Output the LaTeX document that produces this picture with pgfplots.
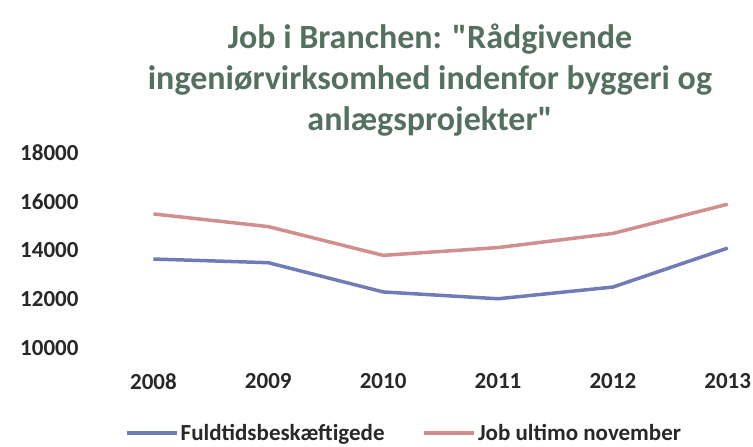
\documentclass[border=0pt]{standalone}
\usepackage{pgfplots}
\pgfplotsset{compat=1.18}
\usepackage{fontspec}
\setmainfont{Carlito}[Ligatures=TeXOff]
\definecolor{titlegreen}{RGB}{84,112,94}
\definecolor{blueline}{RGB}{112,124,184}
\definecolor{pinkline}{RGB}{208,142,142}
\definecolor{txt}{RGB}{40,40,40}
\begin{document}
\begin{tikzpicture}
\useasboundingbox (0,0) rectangle (753pt,447pt);
\node[font=\fontsize{34}{41}\selectfont\bfseries, text=titlegreen, align=center, anchor=north, inner sep=0pt] at (430pt,423pt) {Job i Branchen: "Rådgivende\\ingeniørvirksomhed indenfor byggeri og\\anlægsprojekter"};
\begin{axis}[
  at={(96pt,99pt)}, anchor=south west, scale only axis,
  width=657pt, height=195pt,
  xmin=2007.5, xmax=2013.22, ymin=10000, ymax=18000,
  axis line style={draw=none}, tick style={draw=none},
  xtick={2008,2009,2010,2011,2012,2013},
  ytick={10000,12000,14000,16000,18000},
  scaled y ticks=false, scaled x ticks=false,
  /pgf/number format/fixed,
  /pgf/number format/1000 sep={},
  /pgf/number format/assume math mode=true,
  ticklabel style={font=\fontsize{23}{23}\selectfont\bfseries, text=txt},
  yticklabel style={xshift=-14pt},
  xticklabel style={yshift=-22pt},
  clip=false,
  legend columns=2,
  legend style={at={(0.469,-0.435)}, anchor=center, draw=none, fill=none,
    font=\fontsize{23}{23}\selectfont\bfseries, text=txt,
    /tikz/every even column/.append style={column sep=36pt}},
  legend image code/.code={\draw[#1] (0pt,0pt) -- (50pt,0pt);},
]
\addplot[blueline, line width=3.5pt] coordinates {(2008,13650) (2009,13500) (2010,12300) (2011,12020) (2012,12500) (2013,14100)};
\addlegendentry{Fuldtidsbeskæftigede}
\addplot[pinkline, line width=3.5pt] coordinates {(2008,15500) (2009,14980) (2010,13800) (2011,14120) (2012,14700) (2013,15900)};
\addlegendentry{Job ultimo november}
\end{axis}
\end{tikzpicture}
\end{document}
